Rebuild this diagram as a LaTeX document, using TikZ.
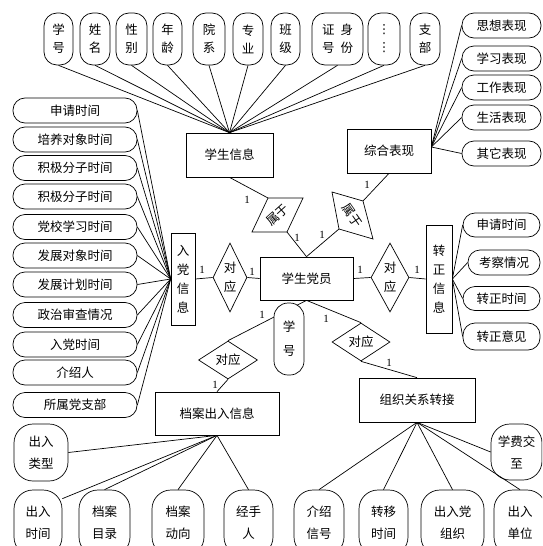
\documentclass[tikz,border=0pt]{standalone}
\usepackage{fontspec}
\setmainfont{Liberation Serif}
\newfontfamily\cjk{Noto Sans CJK SC}
\newfontfamily\dejavu{DejaVu Sans}
\usetikzlibrary{shapes.geometric}
\tikzset{
  ln/.style={line width=0.7pt},
  box/.style={draw, ln, rectangle, inner sep=0pt},
  pl/.style={draw, ln, rectangle, rounded corners=#1, inner sep=0pt, fill=white},
  pl/.default=12pt,
  vattr/.style={pl=13pt, minimum height=52pt, font=\cjk\fontsize{12.5}{18}\selectfont},
  hattr/.style={pl=12pt, minimum height=25pt},
  sq/.style={pl=19pt, font=\cjk\fontsize{12.5}{22}\selectfont},
  dia/.style={draw, ln, diamond, inner sep=0pt},
  lbl/.style={font=\rmfamily\fontsize{11}{11}\selectfont, inner sep=0pt},
  conn/.style={ln}
}
\begin{document}
\begin{tikzpicture}[x=1pt,y=-1pt,
  every node/.style={font=\cjk\fontsize{12.5}{19}\selectfont, inner sep=0pt, align=center}]
\useasboundingbox (0,0) rectangle (542,546);
\clip (0,0) rectangle (542,546);

% top attributes
\node[vattr, minimum width=29pt] (t1) at (58.5,39) {学\\号};
\node[vattr, minimum width=30pt] (t2) at (95,39) {姓\\名};
\node[vattr, minimum width=31pt] (t3) at (131.5,39) {性\\别};
\node[vattr, minimum width=29pt] (t4) at (167.5,39) {年\\龄};
\node[vattr, minimum width=32pt] (t5) at (209,39) {院\\系};
\node[vattr, minimum width=30pt] (t6) at (248,39) {专\\业};
\node[vattr, minimum width=29pt] (t7) at (285.5,39) {班\\级};
\node[vattr, minimum width=51pt] (t8) at (337.5,39) {证\hspace{6pt}身\\号\hspace{6pt}份};
\node[vattr, minimum width=32pt] (t9) at (384,39) {{\dejavu ⋮}\\{\dejavu ⋮}};
\node[vattr, minimum width=30pt] (t10) at (425,39) {支\\部};

% entity boxes
\node[box, minimum width=87pt, minimum height=44pt] (stuinfo) at (229.5,155) {学生信息};
\node[box, minimum width=84pt, minimum height=44pt] (zonghe) at (389,151) {综合表现};
\node[box, minimum width=93pt, minimum height=43pt] (dangyuan) at (306.5,278.5) {学生党员};
\node[box, minimum width=24pt, minimum height=92pt] (rudang) at (183,279) {入\\党\\信\\息};
\node[box, minimum width=26pt, minimum height=108pt] (zhuanzheng) at (439,279) {转\\正\\信\\息};
\node[box, minimum width=124pt, minimum height=43pt] (dangan) at (217,413.5) {档案出入信息};
\node[box, minimum width=116pt, minimum height=44pt] (zuzhi) at (417,400) {组织关系转接};

% left attributes
\foreach \i/\y/\t in {1/110.5/申请时间, 2/139.5/培养对象时间, 3/168/积极分子时间, 4/196.5/积极分子时间,
  5/227/党校学习时间, 6/255.5/发展对象时间, 7/284.5/发展计划时间, 8/315/政治审查情况,
  9/344.5/入党时间, 10/372.5/介绍人, 11/405/所属党支部}{
  \node[hattr, minimum width=124pt] (l\i) at (75,\y) {\t};
}
% zonghe attributes
\foreach \i/\y/\t in {1/25.5/思想表现, 2/58.5/学习表现, 3/87.5/工作表现, 4/117.5/生活表现, 5/153.5/其它表现}{
  \node[hattr, minimum width=79pt] (z\i) at (501.5,\y) {\t};
}
% zhuanzheng attributes
\node[hattr, minimum width=77pt, minimum height=24pt] (r1) at (501.5,225) {申请时间};
\node[hattr, minimum width=72pt] (r2) at (504,262.5) {考察情况};
\node[hattr, minimum width=77pt, minimum height=24pt] (r3) at (501.5,298.5) {转正时间};
\node[hattr, minimum width=77pt, minimum height=27pt] (r4) at (501.5,336.5) {转正意见};

% bottom attributes
\node[sq, minimum width=54pt, minimum height=57pt] (b0) at (41,452.5) {出入\\类型};
\node[sq, minimum width=48pt, minimum height=66pt] (b1) at (38,523) {出入\\时间};
\node[sq, minimum width=51pt, minimum height=66pt] (b2) at (104.5,523) {档案\\目录};
\node[sq, minimum width=52pt, minimum height=66pt] (b3) at (178,523) {档案\\动向};
\node[sq, minimum width=49pt, minimum height=66pt] (b4) at (248.5,523) {经手\\人};
\node[sq, minimum width=50pt, minimum height=66pt] (c1) at (319,523) {介绍\\信号};
\node[sq, minimum width=49pt, minimum height=66pt] (c2) at (383.5,523) {转移\\时间};
\node[sq, minimum width=63pt, minimum height=66pt] (c3) at (452.5,523) {出入党\\组织};
\node[sq, minimum width=52pt, minimum height=66pt] (c4) at (520,523) {出入\\单位};
\node[sq, minimum width=51pt, minimum height=56pt] (c0) at (516.5,452) {学费交\\至};

% relationship diamonds
\node[dia, shape aspect=0.5, minimum width=34pt, minimum height=69pt] (d1) at (230,277.5) {对\\应};
\node[dia, shape aspect=0.5, minimum width=38pt, minimum height=69pt] (d2) at (390,277.5) {对\\应};
\node[dia, shape aspect=1.55, minimum width=59pt, minimum height=38pt] (d3) at (228,360) {对应};
\node[dia, shape aspect=1.55, minimum width=58pt, minimum height=38pt] (d4) at (361,342) {对应};

% 属于 rhombi
\coordinate (s1a) at (268,198); \coordinate (s1b) at (303,198);
\coordinate (s1c) at (287,232); \coordinate (s1d) at (252,232);
\draw[ln] (s1a) -- (s1b) -- (s1c) -- (s1d) -- cycle;
\node[rotate=42] (s1) at (277.5,215) {属于};
\coordinate (s2a) at (332,192); \coordinate (s2b) at (363,201);
\coordinate (s2c) at (373,239); \coordinate (s2d) at (339,229);
\draw[ln] (s2a) -- (s2b) -- (s2c) -- (s2d) -- cycle;
\node[rotate=-55] (s2) at (352.5,215.5) {属于};

% attribute connectors
\foreach \i in {1,...,10}{ \draw[conn] (t\i.south) -- (stuinfo.north); }
\foreach \i in {1,...,11}{ \draw[conn] (l\i.east) -- (rudang.west); }
\foreach \i in {1,...,5}{ \draw[conn] (z\i.west) -- ([yshift=4pt]zonghe.east); }
\foreach \i in {1,...,4}{ \draw[conn] (r\i.west) -- (zhuanzheng.east); }
\draw[conn] (b0.east) -- (dangan.south);
\draw[conn] (b1.45) -- (dangan.south);
\foreach \i in {2,3,4}{ \draw[conn] (b\i.north) -- (dangan.south); }
\draw[conn] (c0.west) -- (zuzhi.south);
\foreach \i in {1,...,4}{ \draw[conn] (c\i.north) -- (zuzhi.south); }

% relationship connectors
\draw[conn] (rudang.east) -- (d1.west);
\draw[conn] (d1.east) -- (dangyuan.west);
\draw[conn] (dangyuan.east) -- (d2.west);
\draw[conn] (d2.east) -- (zhuanzheng.west);
\draw[conn] (stuinfo.south) -- (s1a);
\draw[conn] (s1c) -- (dangyuan.north);
\draw[conn] (zonghe.south) -- (s2b);
\draw[conn] (s2d) -- (dangyuan.north);
\draw[conn] (dangyuan.south) -- (d3.north);
\draw[conn] (dangyuan.south) -- (d4.north);
\draw[conn] (d3.south) -- (dangan.north);
\draw[conn] (d4.south) -- (zuzhi.north);

% 学号 on the link
\node[pl=14pt, minimum width=30pt, minimum height=72pt, font=\cjk\fontsize{12.5}{24}\selectfont] (xh) at (289,339) {学\\号};

% cardinality labels
\node[lbl] (n1) at (202,270) {1};
\node[lbl] (n2) at (252,272) {1};
\node[lbl] (n3) at (360,270) {1};
\node[lbl] (n4) at (417,270) {1};
\node[lbl] (n5) at (247,200) {1};
\node[lbl] (n6) at (297,238) {1};
\node[lbl] (n7) at (367,185) {1};
\node[lbl] (n8) at (322,235) {1};
\node[lbl] (n9) at (262,315) {1};
\node[lbl] (n10) at (326,319) {1};
\node[lbl] (n11) at (215,385) {1};
\node[lbl] (n12) at (389,363) {1};
\end{tikzpicture}
\end{document}
